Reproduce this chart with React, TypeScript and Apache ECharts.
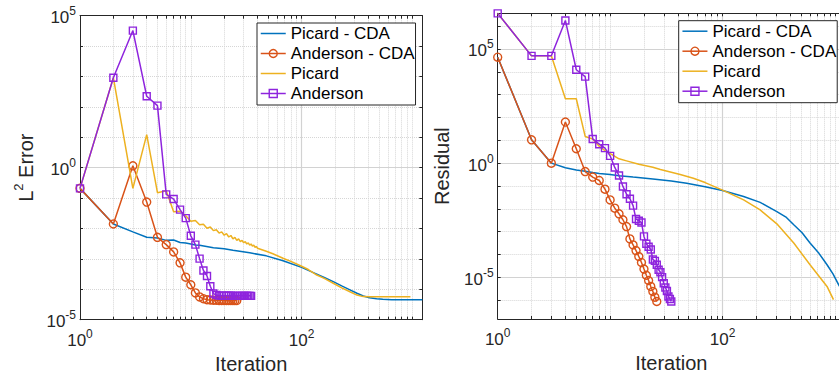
import { useEffect, useRef } from 'react';
import * as echarts from 'echarts';

// ---- axis extents ----
const ITER_MAX = 1228;
const ERR_MIN = 1e-5;
const ERR_MAX = 1e5;
const RES_MIN = 1.49e-7;
const RES_MAX = 3.66e6;

const NAMES = ['Picard - CDA', 'Anderson - CDA', 'Picard', 'Anderson'];
const COLORS = ['#0072BD', '#D95319', '#EDB120', '#8E24DD'];

// ---- L2 error ----
const picardCdaErr: [number, number][] = [
  [1, 0.209], [2, 1.41e-2], [3, 7.76e-3], [4, 5.13e-3], [5, 4.9e-3], [6, 4.07e-3],
  [7, 4.17e-3], [8, 3.47e-3], [9, 3.31e-3], [10, 3.09e-3], [11, 2.88e-3], [12, 2.82e-3],
  [16, 2.34e-3], [20, 2.14e-3], [24, 1.91e-3], [34, 1.58e-3], [48, 1.26e-3], [68, 8.71e-4],
  [100, 5.25e-4], [137, 3.16e-4], [160, 2.45e-4], [193, 1.78e-4], [230, 1.29e-4],
  [273, 9.55e-5], [316, 7.41e-5], [360, 6.03e-5], [410, 5.25e-5], [475, 4.9e-5],
  [540, 4.68e-5], [650, 4.57e-5], [1228, 4.57e-5],
];
const andersonCdaErr: number[] = [
  0.209, 1.41e-2, 1.15, 7.41e-2, 5.13e-3, 2.95e-3, 1.7e-3, 7.41e-4, 2.51e-4, 1.41e-4,
  7.59e-5, 5.62e-5, 4.9e-5, 4.57e-5, 4.47e-5, 4.4e-5, 4.35e-5, 4.3e-5, 4.3e-5, 4.3e-5,
  4.28e-5, 4.28e-5, 4.27e-5, 4.27e-5, 4.27e-5, 4.27e-5,
];
const picardErr: [number, number][] = [
  [1, 0.209], [2, 912], [3, 0.209], [4, 12.3], [5, 0.151], [6, 0.174], [7, 3.55e-2],
  [8, 3.72e-2], [9, 2.63e-2], [10, 1.74e-2], [11, 1.82e-2], [12, 1.32e-2], [13, 1.38e-2],
  [14, 1.02e-2], [15, 1.12e-2], [16, 8.51e-3], [17, 9.12e-3], [18, 7.08e-3], [19, 7.76e-3],
  [20, 6.03e-3], [21, 6.76e-3], [22, 5.25e-3], [23, 5.89e-3], [24, 4.57e-3], [25, 5.13e-3],
  [26, 4.07e-3], [27, 4.57e-3], [28, 3.72e-3], [29, 4.07e-3], [30, 3.39e-3], [31, 3.72e-3],
  [32, 3.09e-3], [33, 3.39e-3], [34, 2.82e-3], [35, 3.09e-3], [36, 2.63e-3], [37, 2.82e-3],
  [38, 2.4e-3], [39, 2.57e-3], [40, 2.24e-3], [48, 1.78e-3], [55, 1.48e-3], [68, 1.05e-3],
  [80, 8.32e-4], [100, 5.75e-4], [115, 4.47e-4], [137, 2.95e-4], [160, 2.29e-4],
  [193, 1.58e-4], [230, 1.12e-4], [273, 8.32e-5], [316, 6.46e-5], [360, 5.75e-5],
  [420, 5.7e-5], [960, 5.7e-5],
];
const andersonErr: number[] = [
  0.209, 912, 3.24e4, 224, 110, 0.133, 9.33e-2, 4.17e-2, 2.19e-2, 5.75e-3,
  2.95e-3, 1.02e-3, 4.17e-4, 2.75e-4, 1.26e-4, 7.24e-5, 6.46e-5, 6.2e-5, 6.17e-5, 6.15e-5,
  6.15e-5, 6.12e-5, 6.12e-5, 6.1e-5, 6.1e-5, 6.1e-5, 6.1e-5, 6.1e-5, 6.1e-5, 6.1e-5,
  6.1e-5, 6.1e-5, 6.1e-5, 6.1e-5, 6.1e-5,
];

// ---- residual ----
const picardCdaRes: [number, number][] = [
  [1, 4.37e4], [2, 10.5], [3, 1.0], [4, 0.631], [5, 0.501], [6, 0.437], [7, 0.389],
  [8, 0.355], [10, 0.316], [12, 0.282], [16, 0.245], [24, 0.204], [35, 0.166], [48, 0.132],
  [70, 9.33e-2], [100, 6.31e-2], [154, 3.47e-2], [216, 1.91e-2], [304, 7.59e-3],
  [370, 4.17e-3], [430, 2.0e-3], [510, 8.91e-4], [600, 3.16e-4], [720, 1.12e-4],
  [850, 3.55e-5], [960, 1.41e-5], [1085, 4.47e-6], [1228, 1.26e-6],
];
const andersonCdaRes: number[] = [
  4.37e4, 10.5, 1.0, 63.1, 4.27, 0.427, 0.245, 0.174, 7.24e-2, 2.45e-2,
  1.07e-2, 6.03e-3, 3.31e-3, 1.66e-3, 4.79e-4, 2.63e-4, 1.48e-4, 8.13e-5, 4.47e-5, 2.29e-5,
  1.23e-5, 7.24e-6, 3.98e-6, 2.4e-6, 1.35e-6, 8.71e-7,
];
const picardRes: [number, number][] = [
  [1, 3.63e6], [2, 5.01e4], [3, 5.01e4], [4, 661], [5, 661], [6, 14.8], [7, 11.5],
  [8, 5.5], [9, 3.55], [10, 2.63], [11, 2.0], [12, 1.55], [14, 1.26], [18, 0.891],
  [24, 0.661], [28, 0.525], [42, 0.316], [55, 0.219], [70, 0.141], [100, 6.61e-2],
  [154, 2.45e-2], [216, 8.91e-3], [304, 2.19e-3], [430, 3.16e-4], [600, 3.55e-5],
  [850, 3.98e-6], [970, 1.05e-6],
];
const andersonRes: number[] = [
  3.63e6, 5.01e4, 5.01e4, 1.78e6, 1.23e4, 6.17e3, 11.5, 6.76, 4.57, 2.09,
  0.646, 0.288, 9.55e-2, 4.37e-2, 2.75e-2, 1.38e-2, 3.55e-3, 3.02e-3, 2.51e-3, 6.17e-4,
  2.95e-4, 2.19e-4, 1.66e-4, 6.03e-5, 5.25e-5, 3.55e-5, 2.14e-5, 1.66e-5, 1.02e-5, 5.5e-6,
  3.55e-6, 2.51e-6, 1.45e-6, 1.12e-6, 8.71e-7,
];

// ---- tick labels ----
const X_LABELS = [1, 100];
const ERR_LABELS = [1e-5, 1, 1e5];
const RES_LABELS = [1e-5, 1, 1e5];

const FONT = 'Liberation Sans';
const INK = '#262626';
const MINOR_GRID = '#d6d6d6';
const MAJOR_GRID = '#d2d2d2';

const X_TICKS: number[] = [];
for (let e = 0; e <= 3; e++) for (let m = 1; m <= 9; m++) X_TICKS.push(m * Math.pow(10, e));
const decades = (lo: number, hi: number) => {
  const out: number[] = [];
  for (let e = lo; e <= hi; e++) out.push(Math.pow(10, e));
  return out;
};

// keep label values strictly inside the axis extent
const nudge = (vals: number[], min: number, max: number) =>
  vals.map((v) => Math.min(Math.max(v, min * 1.0001), max / 1.0001));

const powerLabel = (v: number) => `{b|10}{s|${Math.round(Math.log10(v))}}`;
const tickRich = {
  b: { fontFamily: FONT, fontSize: 17, color: INK, lineHeight: 21, verticalAlign: 'bottom' },
  s: { fontFamily: FONT, fontSize: 12, color: INK, lineHeight: 12, verticalAlign: 'top' },
};

function xAxes(grid: number) {
  const base = { gridIndex: grid, type: 'log', logBase: 10, min: 1, max: ITER_MAX, minorTick: { show: false }, minorSplitLine: { show: false } };
  const line = { show: true, lineStyle: { color: INK, width: 1 } };
  const ticks = { show: true, inside: true, length: 3, customValues: X_TICKS, lineStyle: { color: INK, width: 1 } };
  return [
    {
      ...base, position: 'bottom',
      name: 'Iteration', nameLocation: 'middle', nameGap: 30,
      nameTextStyle: { fontFamily: FONT, fontSize: 20, color: INK },
      axisLine: line, axisTick: ticks,
      axisLabel: { show: true, customValues: nudge(X_LABELS, 1, ITER_MAX), formatter: powerLabel, rich: tickRich, margin: 8 },
      splitLine: { show: true, lineStyle: { color: MINOR_GRID, type: 'dotted', width: 1 } },
    },
    {
      ...base, position: 'top', axisLine: line, axisTick: ticks,
      axisLabel: { show: false }, splitLine: { show: false },
    },
    {
      ...base, position: 'bottom', axisLine: { show: false },
      axisTick: { show: false, customValues: [100] }, axisLabel: { show: false },
      splitLine: { show: true, lineStyle: { color: MAJOR_GRID, type: 'solid', width: 1.2 } },
    },
  ];
}

function yAxes(grid: number, min: number, max: number, name: string, nameGap: number, ticks: number[], labels: number[], majors: number[]) {
  const base = { gridIndex: grid, type: 'log', logBase: 10, min, max, minorTick: { show: false }, minorSplitLine: { show: false } };
  const line = { show: true, lineStyle: { color: INK, width: 1 } };
  const tick = { show: true, inside: true, length: 3, customValues: ticks, lineStyle: { color: INK, width: 1 } };
  return [
    {
      ...base, position: 'left',
      name, nameLocation: 'middle', nameGap,
      nameTextStyle: {
        fontFamily: FONT, fontSize: 20, color: INK,
        rich: {
          n: { fontFamily: FONT, fontSize: 20, color: INK, lineHeight: 24, verticalAlign: 'bottom' },
          s: { fontFamily: FONT, fontSize: 13, color: INK, lineHeight: 13, verticalAlign: 'top' },
        },
      },
      axisLine: line, axisTick: tick,
      axisLabel: { show: true, customValues: nudge(labels, min, max), formatter: powerLabel, rich: tickRich, margin: 4 },
      splitLine: { show: true, lineStyle: { color: MINOR_GRID, type: 'dotted', width: 1 } },
    },
    {
      ...base, position: 'right', axisLine: line, axisTick: tick,
      axisLabel: { show: false }, splitLine: { show: false },
    },
    {
      ...base, position: 'left', axisLine: { show: false },
      axisTick: { show: false, customValues: majors }, axisLabel: { show: false },
      splitLine: { show: true, lineStyle: { color: MAJOR_GRID, type: 'solid', width: 1.2 } },
    },
  ];
}

const indexed = (vals: number[]) => vals.map((v, i) => [i + 1, v]);

function series(grid: number, sets: any[][]) {
  return sets.map((data, k) => {
    const color = COLORS[k];
    const symbol = k === 1 ? 'circle' : k === 3 ? 'rect' : 'none';
    return {
      type: 'line', name: NAMES[k], data,
      xAxisIndex: grid * 3, yAxisIndex: grid * 3,
      symbol, symbolSize: k === 1 ? 8 : 7, showSymbol: symbol !== 'none',
      lineStyle: { color, width: 1.5 },
      itemStyle: { color: 'rgba(0,0,0,0)', borderColor: color, borderWidth: 1.4 },
      emphasis: { disabled: true }, silent: true, z: 2 + k,
    };
  });
}

function legend(left: number, top: number) {
  return {
    left, top, orient: 'vertical', selectedMode: false,
    backgroundColor: '#fff', borderColor: INK, borderWidth: 1, borderRadius: 0,
    padding: [2, 1, 3, 3], itemGap: 3, itemWidth: 25, itemHeight: 10,
    textStyle: { fontFamily: FONT, fontSize: 17, color: '#000' },
    data: NAMES.map((name, k) => ({
      name,
      lineStyle: { color: COLORS[k], width: 1.5 },
      itemStyle: k === 1 || k === 3
        ? { color: 'rgba(0,0,0,0)', borderColor: COLORS[k], borderWidth: 1.4 }
        : { color: 'rgba(0,0,0,0)', borderColor: 'rgba(0,0,0,0)', opacity: 0 },
    })),
  };
}

function buildOption() {
  return {
    animation: false,
    backgroundColor: '#fff',
    grid: [
      { left: 80, top: 15.7, width: 342.3, height: 304, containLabel: false, outerBoundsMode: 'none' },
      { left: 497.7, top: 13.3, width: 347.3, height: 305.7, containLabel: false, outerBoundsMode: 'none' },
    ],
    xAxis: [...xAxes(0), ...xAxes(1)],
    yAxis: [
      ...yAxes(0, ERR_MIN, ERR_MAX, '{n|L}{s|2}{n| Error}', 44, decades(-5, 5), ERR_LABELS, [1]),
      ...yAxes(1, RES_MIN, RES_MAX, 'Residual', 46, decades(-7, 7), RES_LABELS, [1e-5, 1, 1e5]),
    ],
    legend: [legend(257, 23), legend(678.7, 20.7)],
    series: [
      ...series(0, [picardCdaErr, indexed(andersonCdaErr), picardErr, indexed(andersonErr)]),
      ...series(1, [picardCdaRes, indexed(andersonCdaRes), picardRes, indexed(andersonRes)]),
    ],
  };
}

export default function App() {
  const ref = useRef<HTMLDivElement>(null);
  useEffect(() => {
    const chart = echarts.init(ref.current!, undefined, { renderer: 'svg' });
    chart.setOption(buildOption() as any);
    return () => chart.dispose();
  }, []);
  return (
    <div
      ref={ref}
      style={{ position: 'fixed', left: 0, top: 0, width: 839, height: 375, background: '#fff' }}
    />
  );
}
